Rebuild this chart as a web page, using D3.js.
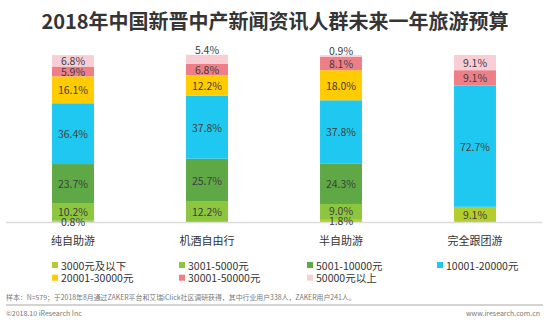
<!DOCTYPE html>
<html>
<head>
<meta charset="utf-8">
<script src="https://cdn.jsdelivr.net/npm/d3@7"></script>
<style>
  html, body { margin: 0; padding: 0; background: #fff; }
  svg { display: block; font-family: "Noto Sans CJK SC", "Noto Sans", sans-serif; }
</style>
</head>
<body>
<svg id="chart" width="550" height="322"></svg>
<script>
const titleText = "2018年中国新晋中产新闻资讯人群未来一年旅游预算";
const categories = ["纯自助游", "机酒自由行", "半自助游", "完全跟团游"];
const seriesNames = ["3000元及以下", "3001-5000元", "5001-10000元", "10001-20000元", "20001-30000元", "30001-50000元", "50000元以上"];
const seriesColors = ["#b4cc2c", "#8cc63e", "#5ea845", "#1fc8f0", "#ffcc00", "#ef7f86", "#f9cdd4"];
const s3000 = [0.8, 0, 1.8, 9.1];
const s5000 = [10.2, 12.2, 9.0, 0];
const s10000 = [23.7, 25.7, 24.3, 0];
const s20000 = [36.4, 37.8, 37.8, 72.7];
const s30000 = [16.1, 12.2, 18.0, 0];
const s50000 = [5.9, 6.8, 8.1, 9.1];
const sOver = [6.8, 5.4, 0.9, 9.1];
const footNote = "样本：N=579；于2018年8月通过ZAKER平台和艾瑞iClick社区调研获得，其中行业用户338人，ZAKER用户241人。";
const copyright = "©2018.10 iResearch Inc";
const website = "www.iresearch.com.cn";

const seriesValues = [s3000, s5000, s10000, s20000, s30000, s50000, sOver];
const rows = categories.map((c, i) => {
  const r = { cat: c };
  seriesNames.forEach((s, k) => r[s] = seriesValues[k][i]);
  return r;
});

const svg = d3.select("#chart");

// title
svg.append("text")
  .attr("x", 275).attr("y", 20)
  .attr("text-anchor", "middle").attr("dominant-baseline", "central")
  .attr("font-size", 20).attr("font-weight", "bold").attr("fill", "#353535")
  .text(titleText);

const x = d3.scaleBand().domain(categories).range([6, 542]).paddingInner(0.687).paddingOuter(0.3435);
const y = d3.scaleLinear().domain([0, 100]).range([222, 55]);

const stack = d3.stack().keys(seriesNames);
const stacked = stack(rows);

const g = svg.append("g");
stacked.forEach((layer, k) => {
  g.selectAll(null).data(layer).enter().append("rect")
    .attr("x", d => x(d.data.cat))
    .attr("width", x.bandwidth())
    .attr("y", d => y(d[1]))
    .attr("height", d => Math.max(0, y(d[0]) - y(d[1])))
    .attr("fill", seriesColors[k]);
});

// baseline
svg.append("line")
  .attr("x1", x.range()[0]).attr("x2", x.range()[1])
  .attr("y1", 222.5).attr("y2", 222.5)
  .attr("stroke", "#dcdcdc").attr("stroke-width", 1.5);

// labels
categories.forEach((c, i) => {
  const labs = [];
  let topIdx = -1;
  stacked.forEach((layer, k) => { if (layer[i][1] - layer[i][0] > 0) topIdx = k; });
  stacked.forEach((layer, k) => {
    const d = layer[i];
    const v = d[1] - d[0];
    if (v <= 0) return;
    let yy = (y(d[0]) + y(d[1])) / 2;
    if (k === topIdx && v < 6) yy = y(d[1]) - 5;
    labs.push({ v: seriesValues[k][i], y: yy, top: k === topIdx && v < 6 });
  });
  // avoid overlap from bottom up
  for (let j = 1; j < labs.length; j++) {
    if (labs[j].top) continue;
    if (labs[j - 1].y - labs[j].y < 10) labs[j].y = labs[j - 1].y - 10;
  }
  labs.forEach(l => {
    svg.append("text")
      .attr("x", x(c) + x.bandwidth() / 2).attr("y", l.y)
      .attr("text-anchor", "middle").attr("dominant-baseline", "central")
      .attr("font-size", 10.5).attr("fill", "#404040")
      .text(d3.format(".1f")(l.v) + "%");
  });
});

// category axis labels
const xAxis = d3.axisBottom(x).tickSize(0).tickPadding(0);
const ax = svg.append("g").attr("transform", "translate(0,239.5)").call(xAxis);
ax.select(".domain").remove();
ax.selectAll("text")
  .attr("dy", null).attr("y", 0)
  .attr("dominant-baseline", "central")
  .attr("font-size", 11).attr("fill", "#333")
  .attr("font-family", "Noto Sans CJK SC, sans-serif");

// legend
const legCols = [52, 179, 307, 437];
const legRows = [265, 277.7];
seriesNames.forEach((s, k) => {
  const cx = legCols[k % 4], cy = legRows[Math.floor(k / 4)];
  svg.append("rect").attr("x", cx).attr("y", cy - 3).attr("width", 6).attr("height", 6).attr("fill", seriesColors[k]);
  svg.append("text").attr("x", cx + 9).attr("y", cy)
    .attr("dominant-baseline", "central").attr("font-size", 10.5).attr("fill", "#333")
    .text(s);
});

// footnote
svg.append("text").attr("x", 6).attr("y", 297)
  .attr("dominant-baseline", "central").attr("font-size", 6.9).attr("fill", "#777")
  .text(footNote);
svg.append("line").attr("x1", 6).attr("x2", 543).attr("y1", 305).attr("y2", 305)
  .attr("stroke", "#a8a8a8").attr("stroke-width", 1);
svg.append("text").attr("x", 6).attr("y", 313)
  .attr("dominant-baseline", "central").attr("font-size", 7).attr("fill", "#777")
  .text(copyright);
svg.append("text").attr("x", 540).attr("y", 313)
  .attr("text-anchor", "end")
  .attr("dominant-baseline", "central").attr("font-size", 7).attr("fill", "#777")
  .text(website);
</script>
</body>
</html>
